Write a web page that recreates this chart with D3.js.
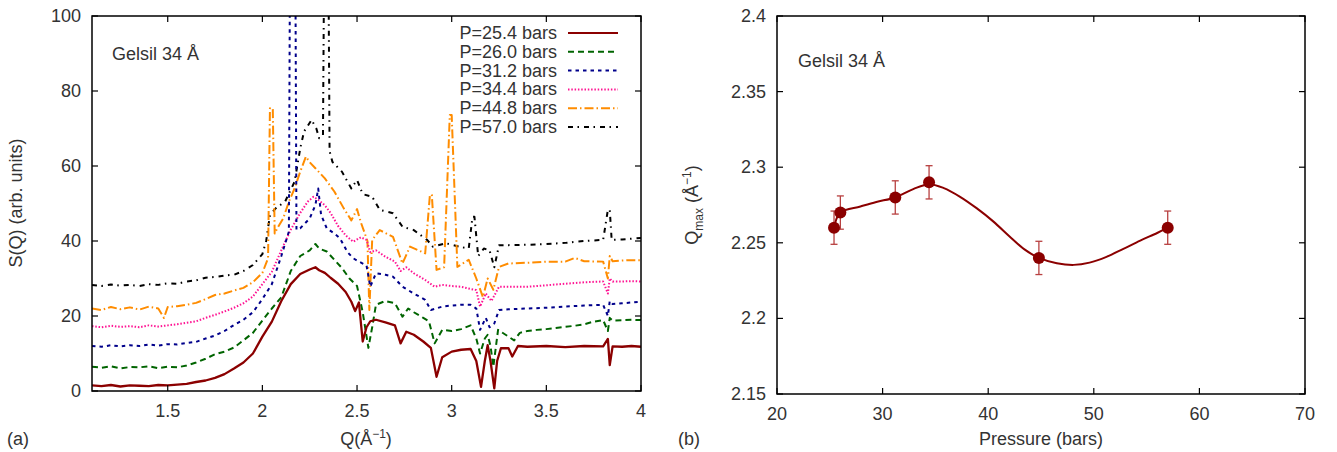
<!DOCTYPE html>
<html><head><meta charset="utf-8">
<script src="https://cdn.jsdelivr.net/npm/d3@7"></script>
<style>
body{margin:0;background:#fff;}
svg{display:block;font-family:"Liberation Sans",Arial,Helvetica,sans-serif;}
</style></head>
<body><svg id="c" width="1337" height="452"></svg>
<script>
// ---------- Panel (a) data: S(Q) spectra, pairs [Q, S] ----------
const s254 = [[1.10,1.5],[1.15,1.3],[1.20,1.6],[1.25,1.2],[1.30,1.5],[1.35,1.4],[1.40,1.3],[1.45,1.6],[1.50,1.5],[1.55,1.7],[1.60,1.9],[1.65,2.4],[1.70,2.8],[1.75,3.5],[1.80,4.5],[1.85,6.0],[1.90,7.6],[1.95,10.0],[2.00,14.5],[2.05,18.5],[2.10,24.0],[2.15,28.5],[2.20,31.2],[2.25,32.4],[2.28,33.0],[2.30,32.2],[2.33,31.5],[2.36,30.2],[2.40,28.6],[2.44,26.4],[2.47,23.8],[2.49,21.3],[2.51,23.6],[2.53,13.2],[2.55,17.0],[2.57,18.6],[2.60,19.0],[2.65,18.3],[2.70,17.5],[2.73,12.7],[2.76,15.8],[2.80,15.0],[2.85,13.2],[2.89,11.5],[2.92,3.8],[2.95,9.0],[3.00,10.5],[3.05,11.0],[3.10,11.2],[3.13,8.0],[3.155,1.1],[3.175,8.0],[3.19,12.2],[3.205,8.0],[3.225,0.7],[3.24,8.0],[3.26,11.4],[3.30,11.4],[3.32,9.2],[3.35,12.0],[3.40,11.8],[3.50,12.0],[3.60,11.7],[3.70,12.0],[3.80,11.9],[3.825,13.9],[3.835,6.9],[3.85,11.9],[3.90,11.8],[3.95,12.0],[4.00,11.8]];
const s260 = [[1.10,6.5],[1.15,6.2],[1.20,6.6],[1.25,6.0],[1.30,6.4],[1.35,6.3],[1.40,6.6],[1.45,6.1],[1.50,6.5],[1.55,6.3],[1.60,6.8],[1.65,7.6],[1.70,8.6],[1.75,9.8],[1.80,10.5],[1.85,11.6],[1.90,13.5],[1.95,15.5],[2.00,18.8],[2.05,22.0],[2.10,25.0],[2.15,32.0],[2.20,36.0],[2.25,37.5],[2.28,39.2],[2.30,38.0],[2.34,37.2],[2.38,35.0],[2.42,32.8],[2.46,30.0],[2.50,28.0],[2.53,21.0],[2.56,11.5],[2.58,17.0],[2.60,23.0],[2.65,24.0],[2.70,23.4],[2.74,19.8],[2.77,22.0],[2.80,21.0],[2.85,19.5],[2.88,18.6],[2.91,12.7],[2.95,16.3],[3.00,16.0],[3.05,16.5],[3.10,17.5],[3.13,14.0],[3.15,10.0],[3.175,14.0],[3.19,15.0],[3.205,12.0],[3.22,6.5],[3.245,16.3],[3.30,14.5],[3.33,13.5],[3.36,15.5],[3.40,16.0],[3.45,16.3],[3.50,16.5],[3.55,16.8],[3.60,17.1],[3.65,17.4],[3.70,17.8],[3.75,18.5],[3.80,18.9],[3.825,16.0],[3.835,19.5],[3.85,18.8],[3.90,18.9],[3.95,19.0],[4.00,18.9]];
const s312 = [[1.10,12.0],[1.15,11.8],[1.20,12.2],[1.25,11.9],[1.30,12.2],[1.35,12.0],[1.40,12.4],[1.45,12.1],[1.50,12.5],[1.55,12.4],[1.60,12.8],[1.65,13.1],[1.70,14.0],[1.75,14.8],[1.80,16.0],[1.85,17.6],[1.90,19.0],[1.95,21.0],[2.00,24.5],[2.05,28.5],[2.10,36.0],[2.14,42.5],[2.145,105],[2.175,105],[2.18,43.0],[2.20,43.4],[2.25,46.0],[2.28,49.6],[2.295,54.0],[2.31,47.0],[2.34,43.4],[2.38,42.0],[2.41,40.7],[2.45,37.0],[2.48,35.4],[2.51,34.5],[2.55,33.5],[2.57,27.8],[2.60,31.4],[2.65,31.0],[2.69,30.5],[2.74,27.8],[2.80,26.0],[2.86,24.3],[2.89,21.6],[2.95,22.5],[3.00,22.8],[3.05,23.0],[3.10,23.0],[3.13,22.0],[3.15,16.3],[3.18,19.5],[3.20,17.0],[3.225,18.0],[3.25,21.6],[3.30,21.8],[3.40,22.0],[3.50,22.2],[3.60,22.5],[3.70,22.8],[3.80,23.0],[3.825,20.0],[3.835,24.0],[3.85,23.2],[3.90,23.4],[3.95,23.6],[4.00,23.8]];
const s344 = [[1.10,17.3],[1.15,17.0],[1.20,17.4],[1.25,17.1],[1.30,17.3],[1.35,17.0],[1.40,17.5],[1.45,17.2],[1.50,17.5],[1.55,17.8],[1.60,18.2],[1.65,18.6],[1.70,19.5],[1.75,20.3],[1.80,21.2],[1.85,22.2],[1.90,23.4],[1.95,25.2],[2.00,28.5],[2.05,31.8],[2.10,37.5],[2.15,43.0],[2.20,47.5],[2.24,50.5],[2.27,51.8],[2.30,50.8],[2.33,49.5],[2.36,47.5],[2.40,44.0],[2.44,41.5],[2.48,39.8],[2.52,41.0],[2.55,40.3],[2.57,37.0],[2.60,37.5],[2.65,35.8],[2.70,34.5],[2.73,32.0],[2.76,33.0],[2.80,31.4],[2.86,29.6],[2.91,27.8],[2.95,28.3],[3.00,28.0],[3.05,27.8],[3.10,27.2],[3.13,26.9],[3.15,22.5],[3.18,26.0],[3.21,24.0],[3.25,27.8],[3.30,27.8],[3.40,27.8],[3.50,28.2],[3.60,28.6],[3.70,29.0],[3.80,29.2],[3.825,26.0],[3.835,30.0],[3.85,29.2],[3.90,29.2],[3.95,29.3],[4.00,29.2]];
const s448 = [[1.10,22.0],[1.15,21.6],[1.20,22.4],[1.25,21.8],[1.30,22.3],[1.35,21.7],[1.40,22.5],[1.45,22.0],[1.48,19.5],[1.50,22.4],[1.55,22.6],[1.60,23.0],[1.65,23.5],[1.70,24.5],[1.75,25.6],[1.80,26.0],[1.85,26.8],[1.90,27.5],[1.95,29.0],[2.00,31.5],[2.03,35.4],[2.04,75.4],[2.055,75.4],[2.065,42.0],[2.08,43.5],[2.11,46.0],[2.14,50.5],[2.17,54.0],[2.20,58.5],[2.23,62.5],[2.25,61.0],[2.28,59.4],[2.33,56.7],[2.38,53.2],[2.43,48.7],[2.47,45.5],[2.50,48.5],[2.52,45.0],[2.555,40.0],[2.565,21.6],[2.58,40.3],[2.62,42.9],[2.69,41.1],[2.74,34.0],[2.78,38.5],[2.86,36.7],[2.885,52.3],[2.895,52.3],[2.92,32.3],[2.96,33.0],[2.99,73.6],[3.00,73.6],[3.03,33.1],[3.09,35.0],[3.13,30.0],[3.165,25.0],[3.19,30.0],[3.22,27.0],[3.25,33.1],[3.30,34.0],[3.40,34.2],[3.50,34.5],[3.60,34.5],[3.65,35.5],[3.70,34.6],[3.80,34.5],[3.825,30.0],[3.835,36.0],[3.85,34.6],[3.90,34.8],[3.95,34.9],[4.00,34.9]];
const s570 = [[1.10,28.3],[1.15,28.0],[1.20,28.4],[1.25,28.1],[1.30,28.3],[1.35,28.0],[1.40,28.5],[1.45,28.3],[1.50,28.7],[1.55,28.6],[1.60,29.2],[1.65,29.5],[1.70,30.2],[1.75,30.4],[1.80,30.8],[1.85,31.0],[1.90,32.0],[1.95,33.6],[2.00,36.5],[2.02,40.0],[2.04,46.9],[2.07,48.7],[2.12,50.5],[2.17,55.8],[2.20,64.7],[2.22,69.2],[2.26,72.3],[2.285,70.0],[2.30,67.4],[2.32,68.0],[2.325,105],[2.35,105],[2.355,64.0],[2.37,61.1],[2.42,58.5],[2.47,54.0],[2.50,56.3],[2.53,52.5],[2.58,51.8],[2.62,48.3],[2.69,47.4],[2.74,43.8],[2.80,42.9],[2.87,40.3],[2.90,38.5],[2.97,39.4],[3.04,38.5],[3.09,38.0],[3.11,46.5],[3.12,46.5],[3.14,36.0],[3.17,38.0],[3.20,37.5],[3.225,33.0],[3.25,38.9],[3.30,38.9],[3.40,39.0],[3.50,39.2],[3.60,39.5],[3.70,40.0],[3.80,40.3],[3.825,48.3],[3.835,48.3],[3.845,40.3],[3.90,40.4],[3.95,40.6],[4.00,40.8]];

const seriesLabels = ["P=25.4 bars","P=26.0 bars","P=31.2 bars","P=34.4 bars","P=44.8 bars","P=57.0 bars"];
const seriesData = [s254, s260, s312, s344, s448, s570];
const seriesColors = ["#8b0000","#006400","#00008b","#ff1493","#ff8c00","#000000"];
const seriesDash = [null,"6,4","3.5,4","1.5,1.8","9,3,1.5,3","5,4.5,1.5,5"];

const qTicks = [1.5,2,2.5,3,3.5,4];
const sTicks = [0,20,40,60,80,100];

// ---------- Panel (b) data ----------
const pressure = [25.4, 26.0, 31.2, 34.4, 44.8, 57.0];
const qmax = [2.26, 2.27, 2.28, 2.29, 2.24, 2.26];
const qmaxErr = [0.011, 0.011, 0.011, 0.011, 0.011, 0.011];
// smooth guide curve
const fitP = [25.4, 26.0, 27.9, 29.4, 31.2, 32.9, 34.4, 35.8, 37.3, 38.9, 40.5, 42.0, 43.4, 44.8, 46.5, 48.1, 49.6, 51.2, 52.8, 54.4, 56.0, 57.0];
const fitQ = [2.260, 2.270, 2.274, 2.277, 2.280, 2.2855, 2.2888, 2.2862, 2.2806, 2.2729, 2.2640, 2.2543, 2.2458, 2.2400, 2.2365, 2.2354, 2.2369, 2.2407, 2.2460, 2.2515, 2.2565, 2.2600];
const pTicks = [20,30,40,50,60,70];
const qmTicks = [2.15,2.2,2.25,2.3,2.35,2.4];

const svg = d3.select("#c");
const FS = 18;
const textCol = "#333";

function frame(g, x, y, xt, yt, xfmt, yfmt){
  const [x0,x1] = x.range(), [y0,y1] = y.range();
  const TL = 6;
  g.append("rect").attr("x",x0).attr("y",y1).attr("width",x1-x0).attr("height",y0-y1)
    .attr("fill","none").attr("stroke","#000").attr("stroke-width",1.5);
  xt.forEach(v=>{
    const px = x(v);
    g.append("line").attr("x1",px).attr("x2",px).attr("y1",y0).attr("y2",y0-TL).attr("stroke","#000").attr("stroke-width",1.2);
    g.append("line").attr("x1",px).attr("x2",px).attr("y1",y1).attr("y2",y1+TL).attr("stroke","#000").attr("stroke-width",1.2);
    g.append("text").attr("x",px).attr("y",y0+26).attr("text-anchor","middle").attr("font-size",FS).attr("fill",textCol).text(xfmt(v));
  });
  yt.forEach(v=>{
    const py = y(v);
    g.append("line").attr("x1",x0).attr("x2",x0+TL).attr("y1",py).attr("y2",py).attr("stroke","#000").attr("stroke-width",1.2);
    g.append("line").attr("x1",x1).attr("x2",x1-TL).attr("y1",py).attr("y2",py).attr("stroke","#000").attr("stroke-width",1.2);
    g.append("text").attr("x",x0-11).attr("y",py+6).attr("text-anchor","end").attr("font-size",FS).attr("fill",textCol).text(yfmt(v));
  });
}

// ---------- Panel (a) ----------
const xA = d3.scaleLinear().domain([1.1,4.0]).range([92,641]);
const yA = d3.scaleLinear().domain([0,100]).range([391,16]);
const gA = svg.append("g");
gA.append("clipPath").attr("id","clipA").append("rect")
  .attr("x",92).attr("y",16).attr("width",549).attr("height",375);
const lineA = d3.line().x(d=>xA(d[0])).y(d=>yA(d[1]));
const plotA = gA.append("g").attr("clip-path","url(#clipA)");
for(let i=seriesData.length-1;i>=0;i--){
  plotA.append("path").attr("d",lineA(seriesData[i])).attr("fill","none")
    .attr("stroke",seriesColors[i]).attr("stroke-width",i===0?2.3:2)
    .attr("stroke-linejoin","round")
    .attr("stroke-dasharray",seriesDash[i]);
}
frame(gA, xA, yA, qTicks, sTicks, d=>String(d), d=>String(d));

gA.append("text").attr("x",112).attr("y",60).attr("font-size",FS).attr("fill",textCol).text("Gelsil 34 Å");
// legend
seriesLabels.forEach((lab,i)=>{
  const ly = 33 + i*18.8;
  gA.append("text").attr("x",557).attr("y",ly+6).attr("text-anchor","end").attr("font-size",FS).attr("fill",textCol).text(lab);
  gA.append("line").attr("x1",568).attr("x2",618).attr("y1",ly).attr("y2",ly)
    .attr("stroke",seriesColors[i]).attr("stroke-width",2).attr("stroke-dasharray",seriesDash[i]);
});
gA.append("text").attr("transform","translate(22,203) rotate(-90)").attr("text-anchor","middle")
  .attr("font-size",FS).attr("fill",textCol).text("S(Q) (arb. units)");
const xtA = gA.append("text").attr("x",366).attr("y",445).attr("text-anchor","middle").attr("font-size",FS).attr("fill",textCol);
xtA.append("tspan").text("Q(Å");
xtA.append("tspan").attr("dy",-7).attr("font-size",12).text("−1");
xtA.append("tspan").attr("dy",7).text(")");
gA.append("text").attr("x",7).attr("y",445).attr("font-size",FS).attr("fill",textCol).text("(a)");

// ---------- Panel (b) ----------
const xB = d3.scaleLinear().domain([20,70]).range([777,1305]);
const yB = d3.scaleLinear().domain([2.15,2.4]).range([394,16]);
const gB = svg.append("g");
const ptsB = pressure.map((p,i)=>[p,qmax[i],qmaxErr[i]]);
const fitB = fitP.map((p,i)=>[p,fitQ[i]]);
gB.append("path").attr("d", d3.line().x(d=>xB(d[0])).y(d=>yB(d[1])).curve(d3.curveCatmullRom.alpha(0.5))(fitB))
  .attr("fill","none").attr("stroke","#8b0000").attr("stroke-width",2);
const eb = gB.append("g").attr("stroke","#b84040").attr("stroke-width",1.3);
ptsB.forEach(d=>{
  const px=xB(d[0]), yt=yB(d[1]+d[2]), yb=yB(d[1]-d[2]);
  eb.append("line").attr("x1",px).attr("x2",px).attr("y1",yt).attr("y2",yb);
  eb.append("line").attr("x1",px-3.5).attr("x2",px+3.5).attr("y1",yt).attr("y2",yt);
  eb.append("line").attr("x1",px-3.5).attr("x2",px+3.5).attr("y1",yb).attr("y2",yb);
});
gB.selectAll("circle").data(ptsB).join("circle").attr("cx",d=>xB(d[0])).attr("cy",d=>yB(d[1])).attr("r",6).attr("fill","#8b0000");
frame(gB, xB, yB, pTicks, qmTicks, d=>String(d), d=>String(d));
gB.append("text").attr("x",798).attr("y",67).attr("font-size",FS).attr("fill",textCol).text("Gelsil 34 Å");
const ytB = gB.append("text").attr("transform","translate(698,205) rotate(-90)").attr("text-anchor","middle").attr("font-size",FS).attr("fill",textCol);
ytB.append("tspan").text("Q");
ytB.append("tspan").attr("dy",5).attr("font-size",12).text("max");
ytB.append("tspan").attr("dy",-5).text(" (Å");
ytB.append("tspan").attr("dy",-7).attr("font-size",12).text("−1");
ytB.append("tspan").attr("dy",7).text(")");
gB.append("text").attr("x",1041).attr("y",445).attr("text-anchor","middle").attr("font-size",FS).attr("fill",textCol).text("Pressure (bars)");
gB.append("text").attr("x",678).attr("y",445).attr("font-size",FS).attr("fill",textCol).text("(b)");
</script></body></html>
